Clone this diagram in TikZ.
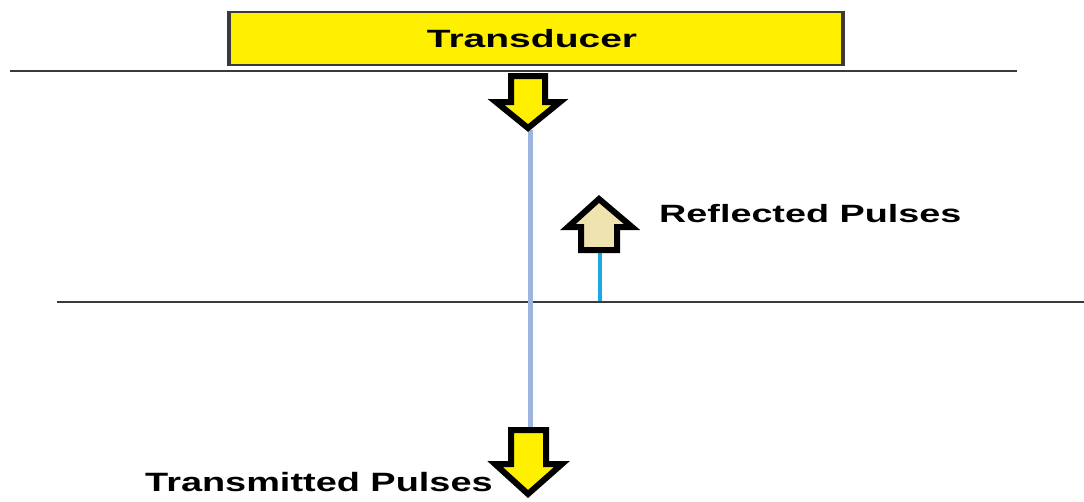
\documentclass[tikz,border=0pt]{standalone}
\usepackage{fontspec}
\usepackage{graphicx}
\setmainfont{Liberation Sans}
\definecolor{tyellow}{HTML}{FFF000}
\definecolor{tbeige}{HTML}{EFE4B0}
\definecolor{beamblue}{HTML}{9DB5DE}
\definecolor{echoblue}{HTML}{1AAAE2}
\definecolor{layer}{HTML}{3A3A3A}
\newcommand{\widetext}[2]{\scalebox{#1}[1]{\bfseries #2}}
\tikzset{
  layerline/.style={draw=layer, line width=2},
  beam/.style={draw=beamblue, line width=5},
  echo/.style={draw=echoblue, line width=4},
  blockarrow/.style={draw=black, line width=6, line join=miter, miter limit=4},
  tbox/.style={fill=tyellow, draw=layer, line width=2, inner sep=0pt,
    minimum width=612, minimum height=53, font=\fontsize{25}{30}\selectfont},
  lbl/.style={inner sep=0pt, anchor=base west, font=\fontsize{25}{30}\selectfont}
}
\begin{document}
\begin{tikzpicture}[x=1pt,y=-1pt]
\useasboundingbox (0,0) rectangle (1084,501);

% layer boundaries
\draw[layerline] (10,71) -- (1017,71);
\draw[layerline] (57,302) -- (1084,302);

% transducer on top of the first layer
\node[tbox] (trans) at (536,38.5) {\hspace*{-8pt}\widetext{1.56}{Transducer}};
\draw[draw=layer, line width=4] (trans.south west) -- (trans.north west);
\draw[draw=layer, line width=4] (trans.south east) -- (trans.north east);

% beam paths
\coordinate (btop) at (530,130);
\coordinate (bbot) at (530,432);
\draw[beam] (btop) -- (bbot);
\coordinate (etop) at (600,248);
\coordinate (ebot) at (600,301);
\draw[echo] (ebot) -- (etop);

% incident pulse arrow
\draw[blockarrow, fill=tyellow]
  (511,76) -- (545,76) -- (545,102) -- (560,102) -- (528,128)
  -- (496,102) -- (511,102) -- cycle;

% transmitted pulse arrow
\draw[blockarrow, fill=tyellow]
  (511,430) -- (546,430) -- (546,464) -- (562,464) -- (528,494)
  -- (495,464) -- (511,464) -- cycle;

% reflected pulse arrow
\draw[blockarrow, fill=tbeige]
  (581,250) -- (617,250) -- (617,227) -- (632,227) -- (599,199)
  -- (568,227) -- (581,227) -- cycle;

% labels
\node[lbl] (refl) at (659,222) {\widetext{1.51}{Reflected Pulses}};
\node[lbl] (trns) at (145,491) {\widetext{1.43}{\fontsize{26.5}{30}\selectfont Transmitted Pulses}};
\end{tikzpicture}
\end{document}
